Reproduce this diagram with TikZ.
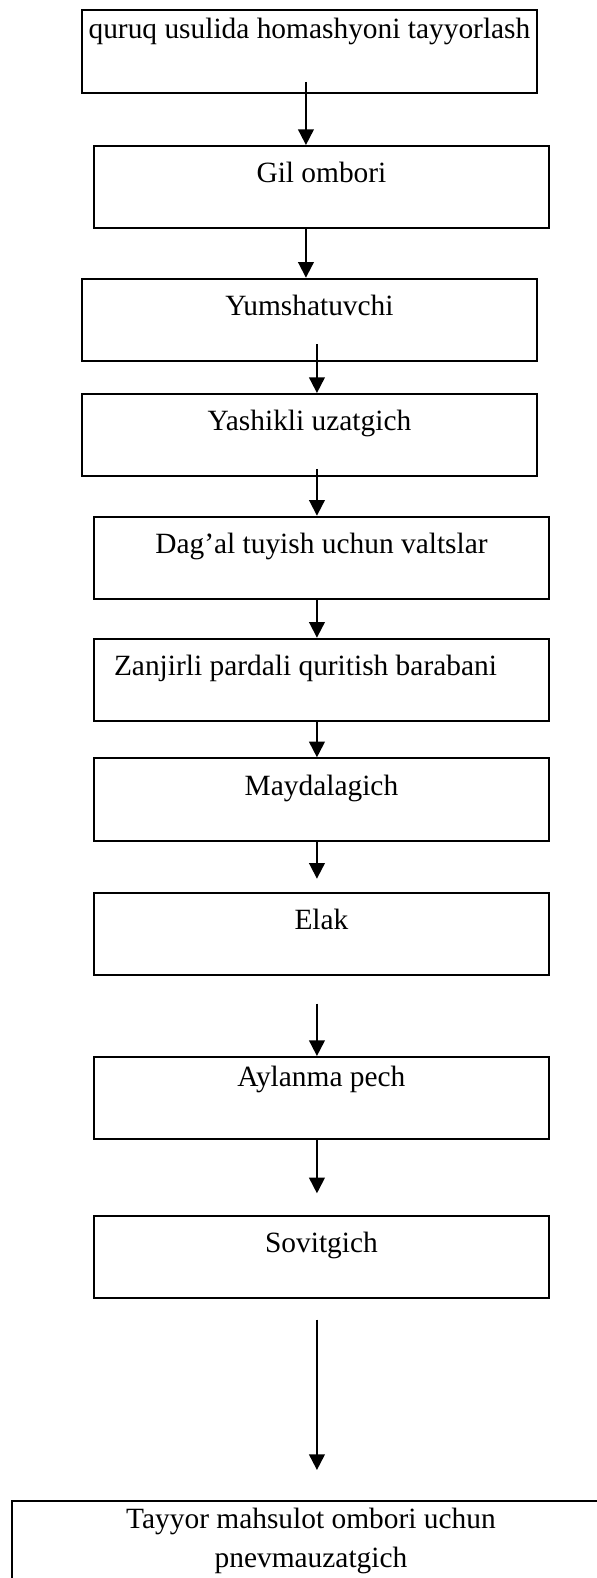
\documentclass[tikz,border=0pt]{standalone}
\usepackage{fontspec}
\setmainfont{Liberation Serif}
\usetikzlibrary{arrows.meta}
\tikzset{
    stage/.style={rectangle, draw=black, line width=0.95pt, anchor=north west,
                  minimum width=227.5pt, inner xsep=0pt, inner ysep=0pt,
                  text height=18.5pt, text depth=22.7pt,
                  font=\fontsize{14.7}{19.35}\selectfont},
    stagehi/.style={stage, text height=14pt, text depth=27.2pt},
    arrow/.style={-{Triangle[length=7.8pt, width=7.8pt]}, line width=0.95pt, draw=black}
}
\begin{document}
\begin{tikzpicture}[x=0.5pt, y=-0.5pt]

  \clip (0,0) rectangle (597,1578);

  % --- Stages ---
  \node[stagehi] (raw) at (81,9.3) {quruq usulida homashyoni tayyorlash};
  \node[stage] (gil) at (93,145) {Gil ombori};
  \node[stage] (yumsh) at (81,277.7) {Yumshatuvchi};
  \node[stage] (yashik) at (81,393) {Yashikli uzatgich};
  \node[stage] (valts) at (93,515.7) {Dag’al tuyish uchun valtslar};
  \node[stage] (baraban) at (93,637.7) {Zanjirli pardali quritish barabani\hspace*{16pt}};
  \node[stage] (mayda) at (93,757.3) {Maydalagich};
  \node[stage] (elak) at (93,891.7) {Elak};
  \node[stage, text height=15pt, text depth=26.2pt] (pech) at (93,1056) {Aylanma pech};
  \node[stage] (sovit) at (93,1215) {Sovitgich};

  % --- Last stage (runs off the page) ---
  \node[stage, minimum width=299pt, text height=14pt, text depth=80pt] (pnevm) at (11,1500)
        {\begin{tabular}[t]{@{}c@{}}Tayyor mahsulot ombori uchun\\pnevmauzatgich\end{tabular}};

  % --- Arrows ---
  \draw[arrow, shorten <=-5.85pt] ([xshift=-1.75pt]raw.south) -- ([xshift=-7.75pt]gil.north);
  \draw[arrow] ([xshift=-7.75pt]gil.south) -- ([xshift=-1.75pt]yumsh.north);
  \draw[arrow, shorten <=-8.9pt] ([xshift=3.75pt]yumsh.south) -- ([xshift=3.75pt]yashik.north);
  \draw[arrow, shorten <=-4.2pt] ([xshift=3.75pt]yashik.south) -- ([xshift=-2.25pt]valts.north);
  \draw[arrow] ([xshift=-2.25pt]valts.south) -- ([xshift=-2.25pt]baraban.north);
  \draw[arrow] ([xshift=-2.25pt]baraban.south) -- ([xshift=-2.25pt]mayda.north);
  \draw[arrow, shorten >=6.5pt] ([xshift=-2.25pt]mayda.south) -- ([xshift=-2.25pt]elak.north);
  \draw[arrow, shorten <=13.8pt] ([xshift=-2.25pt]elak.south) -- ([xshift=-2.25pt]pech.north);
  \draw[arrow, shorten >=10.85pt] ([xshift=-2.25pt]pech.south) -- ([xshift=-2.25pt]sovit.north);
  \draw[arrow, shorten <=10.15pt, shorten >=15pt] ([xshift=-2.25pt]sovit.south) -- ([xshift=3pt]pnevm.north);

\end{tikzpicture}
\end{document}
